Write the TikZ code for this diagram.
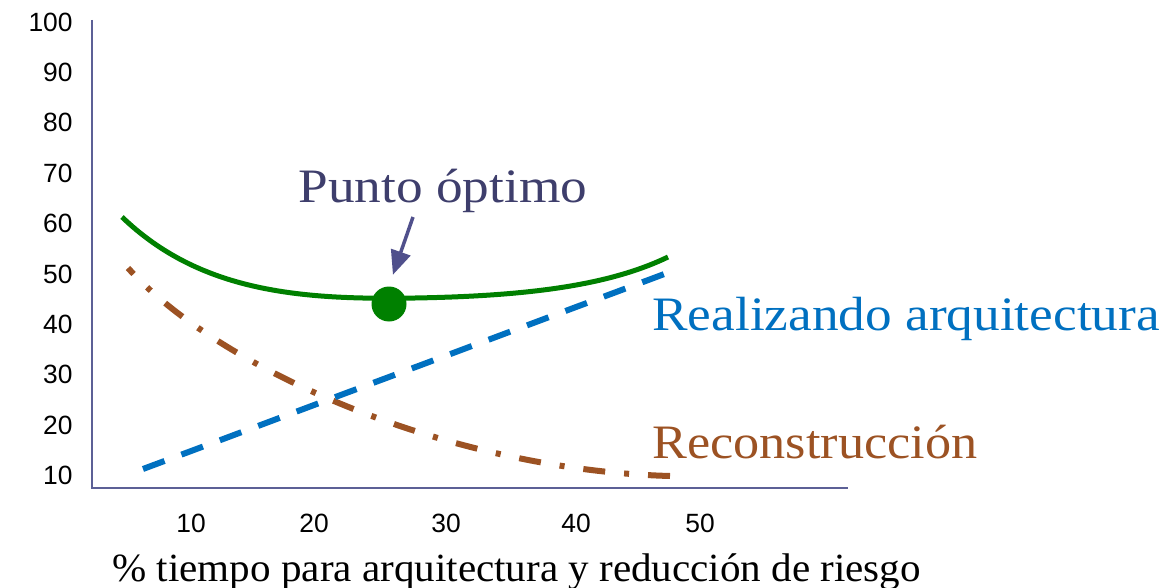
\documentclass[tikz,border=0pt]{standalone}
\usepackage{fontspec}
\setmainfont{Liberation Serif}
\newfontfamily\ticksfont{Liberation Sans}
\usetikzlibrary{arrows.meta}
\usetikzlibrary{positioning}
\definecolor{maxis}{RGB}{92,96,150}
\definecolor{mgreen}{RGB}{0,128,0}
\definecolor{mblue}{RGB}{0,112,192}
\definecolor{mbrown}{RGB}{156,82,35}
\definecolor{mslate}{RGB}{62,62,108}
\definecolor{marrow}{RGB}{80,80,140}
\tikzset{tick/.style = {font = \ticksfont\fontsize{13.2}{15}\selectfont, inner sep = 0}}
\tikzset{lbl/.style = {font = \fontsize{24}{28}\selectfont, inner sep = 0, anchor = base west, xscale = 1.11}}

\begin{document}
\begin{tikzpicture}[x = 0.5pt, y = -0.5pt]
      \useasboundingbox (0, 0) rectangle (1176, 588);
      % axes
      \coordinate (origin) at (92, 488);
      \coordinate (ytop) at (92, 20);
      \coordinate (xend) at (848, 488);
      \draw [maxis, line width = 1pt] (ytop) -- (origin) -- (xend);
      \foreach \v in {10,20,...,100} {
        \node [tick, anchor = east] (y\v) at (73, {22 + (100 - \v) * 5.04}) {\v};
      }
      \foreach \v/\x in {10/191,20/314,30/446,40/576,50/700} {
        \node [tick] (x\v) at (\x, 523) {\v};
      }
      % curves
      \draw [mbrown, line width = 3pt, dash pattern = on 11pt off 9.5pt on 2.5pt off 9.5pt]
        (670, 476) .. controls (450, 470) and (220, 370) .. (128, 268);
      \draw [mblue, line width = 3pt, dash pattern = on 11.5pt off 9pt]
        (143, 469) -- (667, 273);
      \draw [mgreen, line width = 2.5pt]
        (122, 217) .. controls (200, 292) and (300, 300) .. (415, 298)
        .. controls (530, 296) and (610, 285) .. (668, 257);
      \node [circle, fill = mgreen, inner sep = 0, minimum size = 17.5pt] (opt) at (389, 304) {};
      % labels
      \node [lbl, text = mslate] (optlbl) at (298, 203) {Punto óptimo};
      \node [lbl, text = mblue] (arq) at (652, 330) {Realizando arquitectura};
      \node [lbl, text = mbrown, xscale = 0.98] (rec) at (652, 458) {Reconstrucción};
      \node [lbl, font = \fontsize{20}{24}\selectfont, xscale = 0.925] (xlbl) at (112, 581) {\% tiempo para arquitectura y reducción de riesgo};
      \coordinate (tail) at (413, 217);
      \draw [marrow, line width = 1.75pt, -{Triangle[length = 12pt, width = 10pt]}, shorten > = 6pt] (tail) -- (opt.north);
\end{tikzpicture}
\end{document}
